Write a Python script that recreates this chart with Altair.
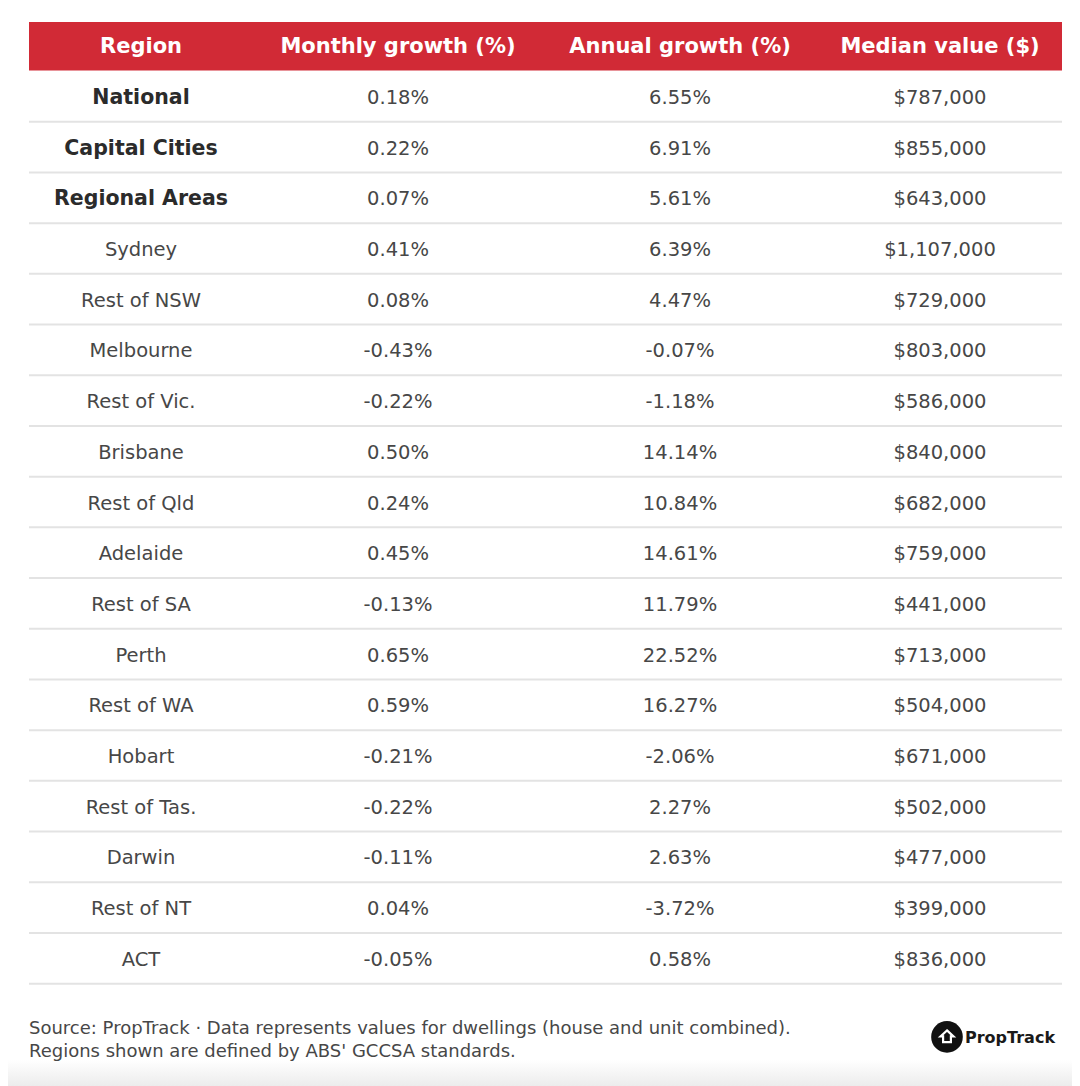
import altair as alt
import pandas as pd

regions = ["National", "Capital Cities", "Regional Areas", "Sydney", "Rest of NSW",
           "Melbourne", "Rest of Vic.", "Brisbane", "Rest of Qld", "Adelaide",
           "Rest of SA", "Perth", "Rest of WA", "Hobart", "Rest of Tas.",
           "Darwin", "Rest of NT", "ACT"]
monthly = [0.18, 0.22, 0.07, 0.41, 0.08, -0.43, -0.22, 0.50, 0.24, 0.45,
           -0.13, 0.65, 0.59, -0.21, -0.22, -0.11, 0.04, -0.05]
annual = [6.55, 6.91, 5.61, 6.39, 4.47, -0.07, -1.18, 14.14, 10.84, 14.61,
          11.79, 22.52, 16.27, -2.06, 2.27, 2.63, -3.72, 0.58]
median = [787000, 855000, 643000, 1107000, 729000, 803000, 586000, 840000, 682000,
          759000, 441000, 713000, 504000, 671000, 502000, 477000, 399000, 836000]
bold_regions = ["National", "Capital Cities", "Regional Areas"]
headers = ["Region", "Monthly growth (%)", "Annual growth (%)", "Median value ($)"]
footer_lines = ["Source: PropTrack \u00b7 Data represents values for dwellings (house and unit combined).",
                "Regions shown are defined by ABS' GCCSA standards."]
logo_text = "PropTrack"

FONT = "DejaVu Sans"
W, H = 1064, 1078
ROW = 50.7
TOP = -(96.4 - 8) / ROW
BOT = (1086 - 96.4) / ROW

xscale = alt.Scale(domain=[0, 1, 2, 3], range=[133, 390, 672, 932])
yscale = alt.Scale(domain=[TOP, BOT], reverse=True)

cells = []
for i, r in enumerate(regions):
    vals = [r, f"{monthly[i]:.2f}%", f"{annual[i]:.2f}%", f"${median[i]:,}"]
    for c, v in enumerate(vals):
        cells.append({"row": i, "col": c, "label": v,
                      "bold": (c == 0 and r in bold_regions)})
cells = pd.DataFrame(cells)
hdr = pd.DataFrame({"row": [-1] * 4, "col": list(range(4)), "label": headers})
seps = pd.DataFrame({"row": [i + 0.5 for i in range(len(regions))]})
band = pd.DataFrame({"y0": [-1.465], "y1": [-0.51]})
foot = pd.DataFrame({"row": [18.375, 18.83], "label": footer_lines})
logo = pd.DataFrame({"row": [18.55], "label": [logo_text]})
shade = pd.DataFrame({"y0": [(1060 - 96.4) / ROW], "y1": [BOT]})

Y = lambda f: alt.Y(f, type="quantitative", scale=yscale, axis=None)
X = alt.X("col:Q", scale=xscale, axis=None)

shade_layer = alt.Chart(shade).mark_rect(
    color=alt.LinearGradient(gradient="linear", x1=0, x2=0, y1=0, y2=1,
                             stops=[alt.GradientStop(color="#ffffff", offset=0),
                                    alt.GradientStop(color="#ececec", offset=1)])
).encode(x=alt.value(-8), x2=alt.value(W + 8), y=Y("y0"), y2=alt.Y2("y1"))

band_layer = alt.Chart(band).mark_rect(color="#d12a36").encode(
    x=alt.value(21), x2=alt.value(1054), y=Y("y0"), y2=alt.Y2("y1"))

sep_layer = alt.Chart(seps).mark_rule(color="#e3e3e3", strokeWidth=2).encode(
    x=alt.value(21), x2=alt.value(1054), y=Y("row"))

hdr_layer = alt.Chart(hdr).mark_text(font=FONT, fontSize=21, fontWeight="bold",
                                     color="#ffffff", baseline="middle", dy=1.5).encode(
    x=X, y=Y("row"), text="label:N")

norm_layer = alt.Chart(cells).transform_filter("!datum.bold").mark_text(
    font=FONT, fontSize=19.5, color="#474747", baseline="middle", dy=1.5).encode(
    x=X, y=Y("row"), text="label:N")

bold_layer = alt.Chart(cells).transform_filter("datum.bold").mark_text(
    font=FONT, fontSize=20.5, fontWeight="bold", color="#2b2b2b", baseline="middle",
    dy=1.5).encode(
    x=X, y=Y("row"), text="label:N")

foot_layer = alt.Chart(foot).mark_text(font=FONT, fontSize=18, color="#474747",
                                       align="left", baseline="middle", dy=1).encode(
    x=alt.value(21), y=Y("row"), text="label:N")

circle_layer = alt.Chart(logo).mark_point(shape="circle", filled=True, color="#111111",
                                          size=1000, opacity=1).encode(
    x=alt.value(939), y=Y("row"))

house = "M0,-0.75 L0.75,-0.05 L0.45,-0.05 L0.45,0.6 L-0.45,0.6 L-0.45,-0.05 L-0.75,-0.05 Z"
house_layer = alt.Chart(logo).mark_point(shape=house, filled=False, color="#ffffff",
                                         strokeWidth=2.2, size=300, opacity=1).encode(
    x=alt.value(939), y=Y("row"))

logo_text_layer = alt.Chart(logo).mark_text(font=FONT, fontSize=16, fontWeight="bold",
                                            color="#1a1a1a", align="left",
                                            baseline="middle", dy=1).encode(
    x=alt.value(957), y=Y("row"), text="label:N")

chart = alt.layer(
    shade_layer, band_layer, sep_layer, hdr_layer, norm_layer, bold_layer,
    foot_layer, circle_layer, house_layer, logo_text_layer
).properties(
    width=W, height=H, padding=0, autosize=alt.AutoSizeParams(type="none")
).configure_view(stroke=None)

chart.save("out.html", embed_options={"renderer": "svg", "actions": False})
